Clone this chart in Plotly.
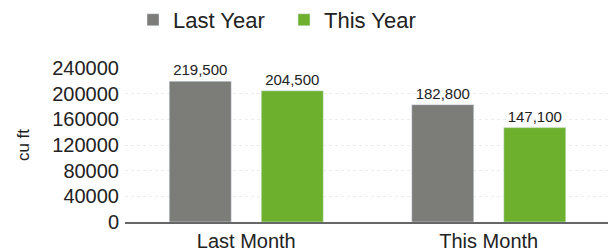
import plotly.graph_objects as go

categories = ["Last Month", "This Month"]
last_year = [219500, 182800]
this_year = [204500, 147100]
y_ticks = [0, 40000, 80000, 120000, 160000, 200000, 240000]

def fmt(v):
    return f"{v:,}"

fig = go.Figure()
fig.add_trace(go.Bar(name="Last Year", x=categories, y=last_year,
                     marker_color="#7c7c78",
                     text=[fmt(v) for v in last_year], textposition="outside",
                     textfont=dict(size=15, color="#222"), cliponaxis=False))
fig.add_trace(go.Bar(name="This Year", x=categories, y=this_year,
                     marker_color="#6cb02e",
                     text=[fmt(v) for v in this_year], textposition="outside",
                     textfont=dict(size=15, color="#222"), cliponaxis=False))

# the page body adds an 8px offset, so the figure is sized/positioned to compensate
fig.update_layout(
    width=608, height=244,
    margin=dict(l=117, r=6, t=60, b=30),
    paper_bgcolor="white", plot_bgcolor="white",
    font=dict(family="Liberation Sans, Arial, sans-serif", color="#222"),
    barmode="group", bargap=0.241, bargroupgap=0.326,
    legend=dict(orientation="h", xref="container", x=0.2056, xanchor="left",
                yref="container", y=0.951, yanchor="middle",
                font=dict(size=22), itemwidth=30, entrywidth=106),
    showlegend=True,
)
fig.update_xaxes(showline=True, linecolor="#666", linewidth=1.5, automargin=False,
                 tickfont=dict(size=20), ticks="", ticklabelstandoff=0)
fig.update_yaxes(range=[0, 240000], tickvals=y_ticks, automargin=False,
                 ticktext=[str(v) for v in y_ticks], ticklabelstandoff=5,
                 tickfont=dict(size=20), showgrid=True,
                 gridcolor="#ececec", griddash="dot", zeroline=False,
                 title=dict(text="cu ft", font=dict(size=17), standoff=18))

fig.write_html("out.html")
